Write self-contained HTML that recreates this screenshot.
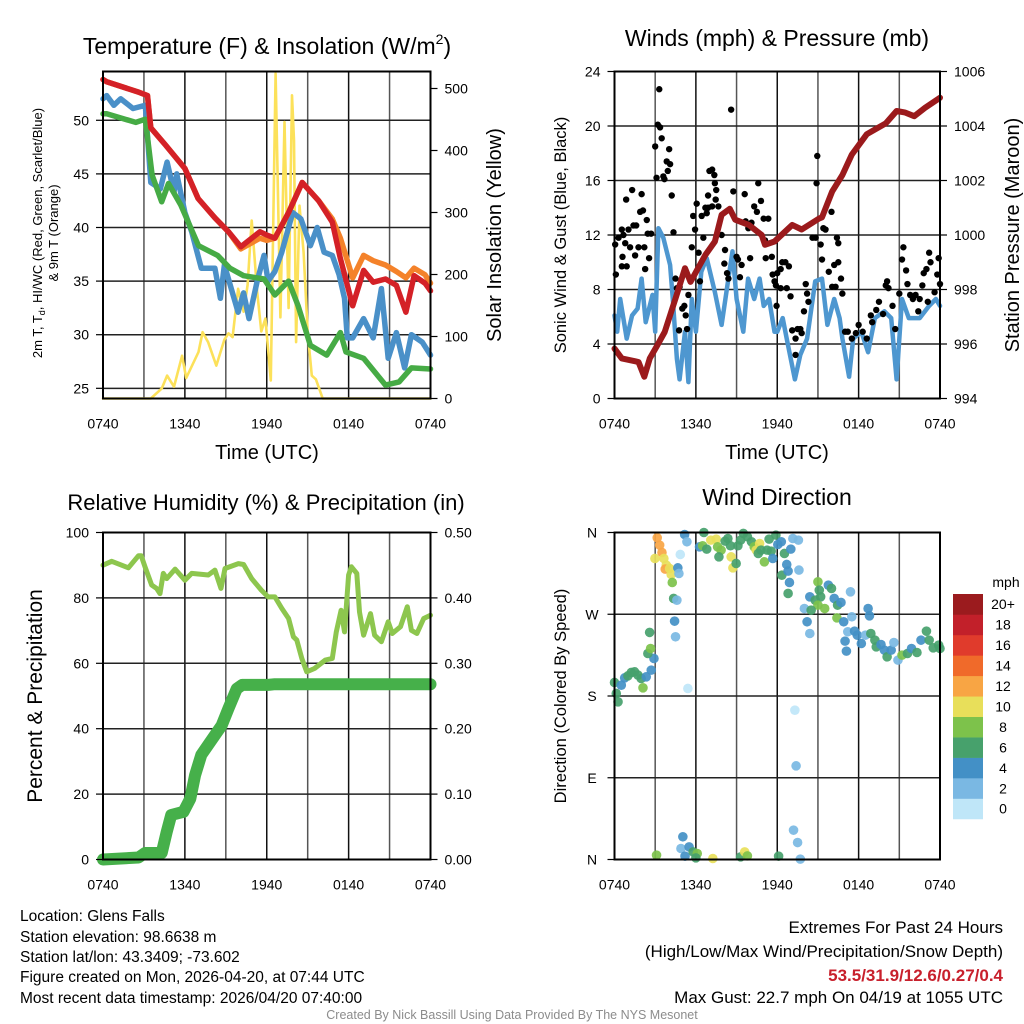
<!DOCTYPE html>
<html><head><meta charset="utf-8"><style>
html,body{margin:0;padding:0;background:#fff}
svg{display:block;font-family:"Liberation Sans",Arial,sans-serif}
</style></head><body>
<svg id="chart" width="1024" height="1024" viewBox="0 0 1024 1024" xmlns="http://www.w3.org/2000/svg">
<rect width="1024" height="1024" fill="#fff"/>
<g id="g1"></g>
<g id="g2"></g>
<g id="g3"></g>
<g id="g4"></g>
<g id="txt">
<text x="20" y="921" font-size="15.5">Location: Glens Falls</text>
<text x="20" y="942" font-size="15.5">Station elevation: 98.6638 m</text>
<text x="20" y="962" font-size="15.5">Station lat/lon: 43.3409; -73.602</text>
<text x="20" y="982" font-size="15.5">Figure created on Mon, 2026-04-20, at 07:44 UTC</text>
<text x="20" y="1003" font-size="15.5">Most recent data timestamp: 2026/04/20 07:40:00</text>
<text x="1003" y="933" font-size="17" text-anchor="end">Extremes For Past 24 Hours</text>
<text x="1003" y="957" font-size="17" text-anchor="end">(High/Low/Max Wind/Precipitation/Snow Depth)</text>
<text x="1003" y="981" font-size="17" font-weight="bold" fill="#c8202c" text-anchor="end">53.5/31.9/12.6/0.27/0.4</text>
<text x="1003" y="1003" font-size="17" text-anchor="end">Max Gust: 22.7 mph On 04/19 at 1055 UTC</text>
<text x="512" y="1019" font-size="12.5" fill="#8c8c8c" text-anchor="middle">Created By Nick Bassill Using Data Provided By The NYS Mesonet</text>
</g>
</svg>
<script>
// ---------- DATA ----------
const timeLabels = ["0740","1340","1940","0140","0740"];
const tempTicks = [25,30,35,40,45,50];
const solarTicks = [0,100,200,300,400,500];
const windTicks = [0,4,8,12,16,20,24];
const presTicks = [994,996,998,1000,1002,1004,1006];
const rhTicks = [0,20,40,60,80,100];
const precipTicks = ["0.00","0.10","0.20","0.30","0.40","0.50"];
const dirLabels = ["N","E","S","W","N"];
const dirTicks = [0,90,180,270,360];
const cbarLabels = ["0","2","4","6","8","10","12","14","16","18","20+"];
const cbarColors = ["#bfe6f8","#7ab8e3","#4390c6","#47a16c","#7dc24b","#e8df5a","#f8a544","#f06a2a","#e03b2c","#c2202a","#9b1b1e"];

const redH = [0,0.27,2.66,3.26,3.5,4.57,6.0,6.97,8.2,9.2,10.1,11.5,12.0,12.6,13.6,14.6,15.8,16.8,17.4,18.3,19.1,19.8,20.7,21.5,22.2,22.8,23.6,24];
const redT = [53.8,53.6,52.6,52.3,49.3,47.7,45.5,42.7,40.9,39.6,38.2,39.6,39.3,39.0,41.4,44.2,42.5,40.5,37.1,32.7,36.0,34.9,35.2,34.6,32.1,35.5,34.8,34.1];
const orangeT = [53.8,53.6,52.6,52.3,49.3,47.7,45.5,42.7,40.9,39.6,38.0,39.0,38.8,39.0,41.4,44.2,42.5,40.8,39.0,35.3,37.4,36.9,36.5,35.9,35.3,36.2,35.6,34.8];
const greenH = [0,0.27,2.4,3.1,3.6,4.3,4.8,5.7,7.0,8.4,9.3,10.3,11.8,12.6,13.6,14.3,15.2,16.4,17.4,17.8,19.1,20.7,21.7,22.6,24];
const greenT = [50.6,50.6,49.8,50.1,44.9,42.4,44.1,42.1,38.3,37.4,36.2,35.5,35.2,33.7,35.0,32.7,29.0,28.1,30.2,28.4,27.8,25.3,25.6,26.9,26.8];
const blueH = [0,0.27,0.8,1.3,2.2,3.1,3.5,4.2,4.7,5.2,5.4,6.0,6.5,7.2,8.2,8.6,8.9,9.9,10.3,10.7,11.3,11.8,12.1,12.6,13.1,13.9,14.5,15.2,15.7,16.2,16.8,17.3,17.7,17.9,18.3,19.1,19.8,20.4,20.9,21.5,22.1,22.6,23.4,24];
const blueT = [52.0,52.3,51.4,52.0,51.1,51.4,44.2,43.6,46.1,43.3,45.0,41.4,39.6,36.2,36.2,33.4,36.5,32.1,33.9,31.5,35.0,37.4,35.0,35.9,37.7,41.4,40.8,38.3,40.0,37.7,37.4,35.6,33.4,29.7,29.7,31.5,29.7,34.3,27.8,30.2,26.9,30.0,29.3,28.1];
const solarH = [0,3.5,4.3,4.7,5.2,5.8,6.1,7.0,7.3,7.7,8.3,8.9,9.2,9.5,9.9,10.3,10.6,10.9,11.3,11.6,11.9,12.3,12.65,13.0,13.3,13.6,13.85,14.0,14.15,14.4,14.7,15.0,15.3,15.6,16.1,24];
const solarW = [0,0,16,37,19,69,33,75,107,91,53,95,105,99,177,140,183,287,172,108,129,29,524,131,446,146,489,416,91,311,236,107,37,31,0,0];

const presH = [0,0.54,1.77,2.2,2.6,3.1,3.7,4.5,5.2,5.6,6.7,7.4,7.9,8.5,8.9,9.9,10.85,11.1,11.8,13.1,13.8,15.07,15.3,16.05,16.8,17.5,18.6,20.0,20.8,21.4,22.1,22.9,24];
const presMb = [995.83,995.47,995.34,994.8,995.47,995.9,996.44,997.67,998.78,998.28,999.27,999.76,1000.74,1000.96,1000.56,1000.37,1000.0,999.64,999.76,1000.37,1000.2,1000.6,1000.65,1001.6,1002.2,1002.95,1003.7,1004.1,1004.55,1004.5,1004.36,1004.67,1005.04];
const windH = [0,0.2,0.42,0.9,1.3,1.7,2.0,2.3,2.8,3.0,3.24,3.6,4.1,4.3,4.6,4.8,5.2,5.45,5.7,6.0,6.4,6.8,7.4,7.9,8.4,8.7,9.0,9.5,9.85,10.3,10.7,11.0,11.4,11.8,12.0,12.4,12.7,13.3,13.7,14.2,14.8,15.3,15.7,16.2,16.6,16.8,17.3,17.6,18.2,18.7,19.2,19.9,20.4,20.8,21.2,21.7,22.5,23.2,23.7,24];
const windS = [6.1,4.9,7.3,4.4,6.1,6.6,8.8,5.6,7.6,4.9,12.5,11.8,9.8,7.3,2.9,1.4,4.9,1.2,7.3,4.9,9.3,10.3,7.8,5.4,8.8,10.8,7.3,4.9,8.8,7.3,8.8,6.8,7.3,4.9,4.9,5.9,4.4,1.4,3.2,4.4,8.6,8.8,5.4,7.3,5.9,4.4,1.6,4.4,4.9,3.4,5.9,6.4,5.9,1.4,7.3,5.9,5.9,6.8,7.3,6.8];
const gustH = [0.05,0.1,0.3,0.54,0.66,0.79,0.86,1.03,1.15,1.3,1.4,1.52,1.6,0.54,0.9,0.59,1.77,1.89,2.0,2.1,2.2,2.26,2.38,2.45,2.55,2.7,3.0,3.1,3.19,3.3,3.36,3.48,3.6,3.68,3.85,3.93,4.03,4.1,4.22,4.35,4.5,4.6,4.8,5.0,5.15,5.25,5.35,5.45,4.76,5.7,5.8,5.94,6.06,6.2,6.3,6.43,6.55,6.7,6.8,6.9,7.0,7.2,7.36,7.4,7.5,6.9,7.2,7.46,7.66,7.9,8.15,8.3,8.4,8.1,8.6,8.76,9.0,9.1,9.25,9.37,9.6,9.67,9.87,10.0,10.1,10.3,10.5,10.6,10.8,11.0,11.1,11.15,11.34,11.6,11.66,11.8,11.95,12.0,12.25,12.37,12.6,12.86,11.9,12.25,12.7,12.98,13.1,13.35,13.5,13.7,13.8,13.35,13.97,14.1,14.2,14.3,14.6,14.83,14.95,14.9,15.2,15.3,15.4,15.56,15.8,16.0,16.05,16.2,16.3,16.4,16.5,16.5,16.7,16.8,17.0,17.2,17.5,17.8,18.0,18.3,18.6,18.9,19.0,19.3,19.5,19.8,20.0,20.1,20.2,20.5,20.7,21.0,21.2,21.3,21.5,21.6,21.8,22.0,22.2,22.5,22.7,22.8,23.0,23.2,23.3,23.6,23.8,23.9,24.0,23.1,22.4];
const gustS = [11.3,9.1,11.8,12.4,12.0,11.4,14.6,12.4,11.1,15.3,12.7,10.5,12.7,9.7,9.7,10.4,11.1,13.7,15.0,13.8,11.1,9.5,13.1,12.1,10.3,12.1,18.5,16.2,20.1,22.7,19.9,19.1,16.3,16.1,17.4,16.7,18.3,17.2,14.9,12.2,8.8,8.1,8.2,6.6,6.8,6.1,5.1,7.6,5.0,11.1,13.4,12.4,14.3,10.7,8.6,13.4,11.8,14.0,13.6,14.9,16.7,16.8,16.4,15.8,15.3,14.0,14.1,14.6,14.1,12.0,10.9,9.2,8.8,9.9,21.2,15.2,10.4,10.2,8.9,9.8,15.0,13.0,12.5,10.3,12.9,14.1,13.7,15.8,14.5,13.2,11.6,10.3,13.2,10.4,9.1,8.6,6.8,9.2,9.5,10.0,10.0,9.7,8.3,8.1,8.1,7.5,5.0,4.4,5.1,5.1,4.8,3.2,6.4,8.4,7.7,7.1,11.8,11.8,17.8,15.8,11.3,10.2,12.5,12.4,9.3,13.7,8.2,9.8,8.2,11.8,11.4,10.0,8.8,7.7,4.9,4.9,4.4,4.8,5.4,4.9,4.4,6.1,5.6,6.5,7.1,6.2,8.3,8.6,8.1,6.8,5.1,7.7,10.2,11.1,9.4,8.4,7.6,7.3,7.6,7.3,8.3,9.2,9.5,10.7,10.0,7.8,9.1,10.3,8.4,7.1,6.4];

const rhH = [0,0.64,1.86,2.6,2.8,3.08,3.57,3.93,4.18,4.42,4.67,5.28,6.0,6.5,7.72,8.2,8.65,8.94,9.92,10.3,10.9,11.6,12.1,12.6,13.1,13.6,13.95,14.2,14.57,14.93,15.5,16.3,16.8,17.1,17.45,17.7,18.0,18.2,18.6,18.8,19.1,19.6,19.9,20.4,20.9,21.2,21.8,22.3,22.6,23.0,23.5,24];
const rhPct = [90,91.2,89.2,92.9,92.9,89.5,83.9,82.9,81.3,87.5,85.9,88.8,85.4,87.5,87.0,88.5,82.9,89.0,90.5,90.2,85.9,82.4,80.3,80.3,76.8,73.7,68.1,67.1,61.5,57.4,58.4,61.0,61.5,69.6,76.2,69.6,87.0,89.5,87.5,75.7,68.6,75.2,68.6,66.6,72.7,69.1,71.2,77.3,70.1,69.1,73.7,74.7];
const prH = [0,2.6,3.08,4.3,4.67,5.0,5.9,6.4,6.75,7.2,8.2,8.7,9.2,9.8,10.2,12.1,12.6,24];
const prIn = [0,0.003,0.01,0.01,0.042,0.068,0.073,0.093,0.129,0.16,0.19,0.205,0.231,0.261,0.267,0.267,0.268,0.268];

const dirH = [0,0.26,0.13,0.5,0.75,0.99,1.24,1.48,1.73,1.97,2.1,2.34,2.71,2.91,2.46,2.66,2.59,5.41,3.15,3.33,3.5,2.98,3.64,3.82,3.74,4.06,4.18,4.26,4.36,4.6,4.43,4.5,4.67,4.75,4.85,5.17,5.34,6.59,6.27,6.5,6.8,7.1,7.5,7.6,7.86,7.7,8.16,8.36,8.55,8.6,8.73,8.97,9.1,9.3,9.5,9.8,10.1,10.3,10.45,10.7,10.6,11.05,10.8,11.25,11.55,11.4,11.67,11.9,12.04,12.3,12.53,12.34,12.7,12.8,12.9,12.8,13.15,13.56,13.0,13.6,15.0,15.1,15.2,15.77,16.0,16.2,14.4,14.8,15.0,15.5,14.0,14.2,14.4,14.5,16.45,16.7,16.4,16.9,17.4,17.5,17.2,17.7,17.9,17.0,17.1,18.2,18.5,18.7,18.8,18.9,19.2,19.3,19.65,19.9,20.1,20.4,20.6,20.9,21.2,21.6,21.9,22.3,22.6,23.0,23.2,23.5,23.9,24,13.3,13.39,3.1,5.04,4.9,5.5,5.2,5.8,6.1,6.0,7.25,9.3,9.6,9.8,12.1,13.2,13.5,13.7];
const dirDeg = [194.9,173.6,182.8,191.9,200,202.2,205.9,206.6,203,199.3,189,201.1,208.5,221.3,226.8,232.3,250,188.3,354.2,346.1,338,331.4,331.4,324,319.7,320.4,313.8,305,287.4,285.5,262.4,245.2,321.1,314.9,335.8,357.8,349.8,360,344.2,345.4,341.7,351.6,352.7,344.2,340.6,333.2,350.5,353.4,345.4,333.2,321.1,325.9,345.4,351.6,359,355.3,349.8,344.2,340.6,347.9,336.9,327.7,340.6,340.6,339.5,352.7,331.4,357.1,346.8,349.8,336.9,313,324.8,317.5,305,292.9,353.4,351.6,341.7,318.6,305.7,296.5,289.2,302,298.4,287.4,289.2,285.5,280,276.3,276.3,261.7,248.8,274.5,280,283,266,261.7,294.7,267.2,250.7,251.4,247,240.4,229.4,237.8,247,276.3,268.3,248.8,241.5,234.1,236.7,230.5,223.1,230.5,238.9,219.5,225,226.8,232.3,227.9,241.5,251.4,241.5,233,236,232.3,164.4,103.1,4.8,25,12.1,13.9,3.7,8.4,6.6,1.8,1.1,2.9,8.4,4,3.7,32.3,18.7,0.4];
const dirSpd = [7,7,7,5,5,7,7,7,7,7,9,5,5,5,7,9,7,1,13,13,13,11,11,11,13,11,11,9,7,3,5,3,5,3,1,5,3,7,5,9,7,11,11,9,9,7,7,7,7,11,11,7,7,7,7,7,7,9,11,11,7,9,7,7,7,7,5,7,5,5,7,7,5,5,5,7,3,3,5,3,9,7,7,5,7,5,5,7,9,9,3,5,3,7,7,5,9,5,3,3,3,5,5,5,5,5,3,5,5,7,7,7,5,5,7,5,3,3,9,7,5,7,5,7,7,7,7,7,1,3,9,5,3,5,5,7,9,7,11,7,11,9,7,3,3,3];

// ---------- HELPERS ----------
const NS = "http://www.w3.org/2000/svg";
function mk(parent, tag, attrs, text) {
  const e = document.createElementNS(NS, tag);
  for (const k in attrs) e.setAttribute(k, attrs[k]);
  if (text !== undefined) e.textContent = text;
  parent.appendChild(e);
  return e;
}
function scaleX(p, h) { return p.x0 + h * (p.x1 - p.x0) / 24; }
function linY(p, lo, hi, v) { return p.y1 - (v - lo) * (p.y1 - p.y0) / (hi - lo); }
function pathD(xs, ys) { return xs.map((x, i) => (i ? "L" : "M") + x.toFixed(1) + "," + ys[i].toFixed(1)).join(""); }

function frame(g, p) {
  for (let i = 1; i < 8; i++) {
    const x = p.x0 + i * (p.x1 - p.x0) / 8;
    const l = mk(g, "line", {x1: x, x2: x, y1: p.y0, y2: p.y1, stroke: i % 2 ? "#555" : "#111", "stroke-width": 1.5});
    
    
  }
  for (let i = 0; i < 5; i++) {
    const x = scaleX(p, i * 6);
    const t = mk(g, "text", {x: x, y: p.y1 + 30, "font-size": 14, "text-anchor": "middle"}, timeLabels[i]);
    
    
  }
}
function hgrid(g, p, ys) {
  ys.forEach(y => {
    const l = mk(g, "line", {x1: p.x0, x2: p.x1, y1: y, y2: y, stroke: "#222", "stroke-width": 1.5});
    
    
  });
}
function box(g, p) {
  const r = mk(g, "rect", {x: p.x0, y: p.y0, width: p.x1 - p.x0, height: p.y1 - p.y0, fill: "none", stroke: "#000", "stroke-width": 2});
  
  
}
function yTicks(g, p, ys, labels, side, name) {
  ys.forEach((y, i) => {
    const x = side === "L" ? p.x0 : p.x1;
    const d = side === "L" ? -7 : 7;
    mk(g, "line", {x1: x, x2: x + d, y1: y, y2: y, stroke: "#000", "stroke-width": 1.2});
    const t = mk(g, "text", {x: side === "L" ? x - 14 : x + 14, y: y + 5, "font-size": 14, "text-anchor": side === "L" ? "end" : "start"}, labels[i]);
    
    
  });
}
function vTitle(g, x, y, size, str, name) {
  const t = mk(g, "text", {x: x, y: y, "font-size": size, "text-anchor": "middle", transform: "rotate(-90 " + x + " " + y + ")"}, str);
  
  
  return t;
}
function title(g, x, y, str, name, size) {
  const t = mk(g, "text", {x: x, y: y, "font-size": size || 23, "text-anchor": "middle"}, str);
  
  
  return t;
}
function series(g, xs, ys, color, w, name) {
  const e = mk(g, "path", {d: pathD(xs, ys), fill: "none", stroke: color, "stroke-width": w, "stroke-linejoin": "round", "stroke-linecap": "round"});
  
  
}

// ---------- PANEL 1 ----------
const P1 = {x0: 103, x1: 430.5, y0: 71.5, y1: 398.5};
const tLo = 24.05, tHi = 54.55;
const g1 = document.getElementById("g1");
frame(g1, P1);
hgrid(g1, P1, tempTicks.map(v => linY(P1, tLo, tHi, v)));
const sY = v => P1.y1 - v * 0.62;
series(g1, solarH.map(h => scaleX(P1, h)), solarW.map(sY), "#fce15a", 2.6, "solar-insolation-line");
series(g1, blueH.map(h => scaleX(P1, h)), blueT.map(v => linY(P1, tLo, tHi, v)), "#4a90c8", 5.5, "wind-chill-line");
series(g1, greenH.map(h => scaleX(P1, h)), greenT.map(v => linY(P1, tLo, tHi, v)), "#46ab45", 5.5, "dewpoint-line");
series(g1, redH.map(h => scaleX(P1, h)), orangeT.map(v => linY(P1, tLo, tHi, v)), "#f4822a", 5.5, "9m-temperature-line");
series(g1, redH.map(h => scaleX(P1, h)), redT.map(v => linY(P1, tLo, tHi, v)), "#d42127", 5.5, "2m-temperature-line");
box(g1, P1);
yTicks(g1, P1, tempTicks.map(v => linY(P1, tLo, tHi, v)), tempTicks.map(String), "L", "temp-tick-label");
yTicks(g1, P1, solarTicks.map(sY), solarTicks.map(String), "R", "solar-tick-label");
(function(){
  const t = vTitle(g1, 42, 233, 13, "", "left-axis-title-line1");
  t.textContent = "2m T, T";
  mk(t, "tspan", {"font-size": 9, dy: 3}, "d");
  mk(t, "tspan", {dy: -3}, ", HI/WC (Red, Green, Scarlet/Blue)");
})();
vTitle(g1, 58, 233, 13, "& 9m T (Orange)", "left-axis-title-line2");
vTitle(g1, 501, 235, 20, "Solar Insolation (Yellow)", "right-axis-title");
(function(){
  const t = title(g1, 267, 54, "Temperature (F) & Insolation (W/m", "temperature-title");
  mk(t, "tspan", {"font-size": 14, dy: -10}, "2");
  mk(t, "tspan", {dy: 10}, ")");
})();
title(g1, 267, 459, "Time (UTC)", "x-axis-title", 20);

// ---------- PANEL 2 ----------
const P2 = {x0: 614.5, x1: 940, y0: 71.5, y1: 398.5};
const g2 = document.getElementById("g2");
frame(g2, P2);
hgrid(g2, P2, windTicks.slice(1, 6).map(v => linY(P2, 0, 24, v)));
const pY = v => linY(P2, 994, 1006, v);
series(g2, windH.map(h => scaleX(P2, h)), windS.map(v => linY(P2, 0, 24, v)), "#4e97d0", 4.5, "sonic-wind-line");
gustH.forEach((h, i) => {
  const c = mk(g2, "circle", {cx: scaleX(P2, h), cy: linY(P2, 0, 24, gustS[i]), r: 3.2, fill: "#000"});
  
  
});
series(g2, presH.map(h => scaleX(P2, h)), presMb.map(pY), "#9b1a1c", 6, "pressure-line");
box(g2, P2);
yTicks(g2, P2, windTicks.map(v => linY(P2, 0, 24, v)), windTicks.map(String), "L", "wind-tick-label");
yTicks(g2, P2, presTicks.map(pY), presTicks.map(String), "R", "pressure-tick-label");
vTitle(g2, 566, 235, 16.5, "Sonic Wind & Gust (Blue, Black)", "left-axis-title");
vTitle(g2, 1019, 235, 20, "Station Pressure (Maroon)", "right-axis-title");
title(g2, 777, 46, "Winds (mph) & Pressure (mb)", "winds-title");
title(g2, 777, 459, "Time (UTC)", "x-axis-title", 20);

// ---------- PANEL 3 ----------
const P3 = {x0: 103, x1: 430.5, y0: 532.5, y1: 859.5};
const g3 = document.getElementById("g3");
frame(g3, P3);
hgrid(g3, P3, rhTicks.slice(1, 5).map(v => linY(P3, 0, 100, v)));
series(g3, rhH.map(h => scaleX(P3, h)), rhPct.map(v => linY(P3, 0, 100, v)), "#8dc64e", 5, "relative-humidity-line");
series(g3, prH.map(h => scaleX(P3, h)), prIn.map(v => linY(P3, 0, 0.5, v)), "#46b04a", 12, "precipitation-line");
box(g3, P3);
yTicks(g3, P3, rhTicks.map(v => linY(P3, 0, 100, v)), rhTicks.map(String), "L", "rh-tick-label");
yTicks(g3, P3, precipTicks.map(v => linY(P3, 0, 0.5, +v)), precipTicks, "R", "precip-tick-label");
vTitle(g3, 42, 696, 21, "Percent & Precipitation", "left-axis-title");
title(g3, 266, 510, "Relative Humidity (%) & Precipitation (in)", "humidity-title", 22);

// ---------- PANEL 4 ----------
const P4 = {x0: 614.5, x1: 940, y0: 532.5, y1: 859.5};
const g4 = document.getElementById("g4");
frame(g4, P4);
hgrid(g4, P4, [90, 180, 270].map(v => linY(P4, 0, 360, v)));
function spdColor(s) { return cbarColors[Math.min(10, Math.floor(s / 2))]; }
dirH.forEach((h, i) => {
  const c = mk(g4, "circle", {cx: scaleX(P4, h), cy: linY(P4, 0, 360, dirDeg[i]), r: 4.8, fill: spdColor(dirSpd[i]), "fill-opacity": 0.92});
  
  
});
box(g4, P4);
dirTicks.forEach((d, i) => {
  const y = linY(P4, 0, 360, d);
  mk(g4, "line", {x1: P4.x0, x2: P4.x0 - 7, y1: y, y2: y, stroke: "#000", "stroke-width": 1.2});
  const t = mk(g4, "text", {x: 592, y: y + 5, "font-size": 14, "text-anchor": "middle"}, dirLabels[i]);
  
  
});
vTitle(g4, 566, 696, 16.5, "Direction (Colored By Speed)", "left-axis-title");
title(g4, 777, 505, "Wind Direction", "wind-direction-title");
const cb = mk(g4, "g", {});


const cbTop = 594, cbH = 20.45;
cbarColors.forEach((col, i) => {
  const y = cbTop + (10 - i) * cbH;
  const r = mk(cb, "rect", {x: 953, y: y, width: 30, height: cbH + 0.3, fill: col});
  
  
  const t = mk(cb, "text", {x: 1003, y: y + cbH / 2 + 5, "font-size": 14, "text-anchor": "middle"}, cbarLabels[i]);
  
  
});
const u = mk(cb, "text", {x: 1006, y: 587, "font-size": 14, "text-anchor": "middle"}, "mph");


</script>
</body></html>
